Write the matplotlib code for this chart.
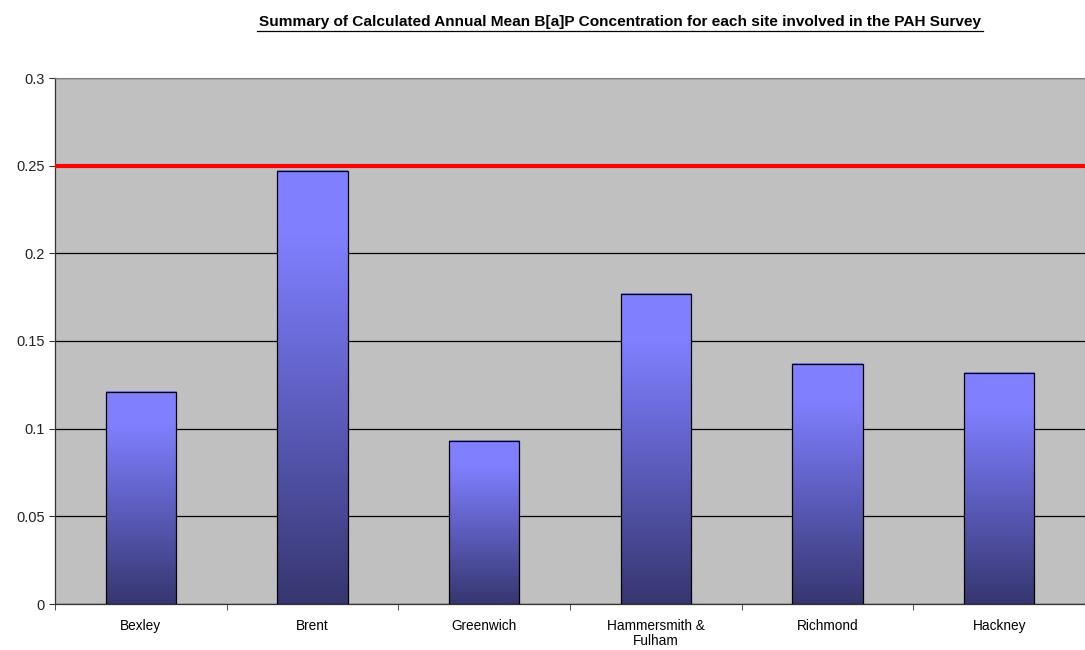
import numpy as np
import matplotlib.pyplot as plt
from matplotlib.colors import LinearSegmentedColormap

sites = ["Bexley", "Brent", "Greenwich", "Hammersmith &\nFulham", "Richmond", "Hackney"]
bap = [0.121, 0.247, 0.093, 0.177, 0.137, 0.132]
target = 0.25
yticks = [0, 0.05, 0.1, 0.15, 0.2, 0.25, 0.3]
ytick_labels = ["0", "0.05", "0.1", "0.15", "0.2", "0.25", "0.3"]

plt.rcParams['font.family'] = ['Liberation Sans', 'DejaVu Sans']

fig = plt.figure(figsize=(10.85, 6.5), dpi=100)
ax = fig.add_axes([55 / 1085, 1 - 604 / 650, 1030 / 1085, (604 - 78) / 650])
ax.set_facecolor("#c0c0c0")

x = np.arange(len(sites))
bar_w = 0.41
cmap = LinearSegmentedColormap.from_list(
    "bar", [(0, "#363670"), (0.6, "#6a6ad8"), (0.85, "#8080ff"), (1, "#8080ff")])
grad = np.linspace(0, 1, 256).reshape(-1, 1)

bars = ax.bar(x, bap, width=bar_w, facecolor="none", edgecolor="black",
              linewidth=0.9, zorder=4)
for b in bars:
    x0, y0 = b.get_x(), b.get_y()
    w, h = b.get_width(), b.get_height()
    ax.imshow(grad, cmap=cmap, origin="lower", aspect="auto",
              extent=(x0, x0 + w, y0, y0 + h), zorder=3)

ax.axhline(target, color="#ff0000", linewidth=3, zorder=5)

ax.set_xlim(-0.5, len(sites) - 0.5)
ax.set_ylim(0, 0.3)
ax.set_yticks(yticks)
ax.set_yticklabels(ytick_labels)
ax.yaxis.grid(True, color="black", linewidth=0.9, zorder=1)
ax.set_axisbelow(True)

ax.set_xticks(x)
ax.set_xticklabels(sites, fontsize=9.8, linespacing=1.1)
ax.set_xticks(np.arange(len(sites)) - 0.5, minor=True)
ax.tick_params(axis="x", which="major", length=0, pad=11)
ax.tick_params(axis="x", which="minor", length=4, direction="out", color="#333333")
ax.tick_params(axis="y", length=4, direction="out", labelsize=10.5, color="#333333",
               labelcolor="#222222")

for s in ["top", "right"]:
    ax.spines[s].set_color("#808080")
    ax.spines[s].set_linewidth(0.8)
for s in ["left", "bottom"]:
    ax.spines[s].set_color("#333333")
    ax.spines[s].set_linewidth(0.9)

fig.text(620 / 1085, 1 - 22 / 650,
         "Summary of Calculated Annual Mean B[a]P Concentration for each site involved in the PAH Survey",
         ha="center", va="center", fontsize=11.1, fontweight="bold")
fig.add_artist(plt.Line2D([257 / 1085, 983 / 1085], [1 - 31 / 650, 1 - 31 / 650],
                          color="black", linewidth=0.9))

fig.savefig("out.png", dpi=100)
